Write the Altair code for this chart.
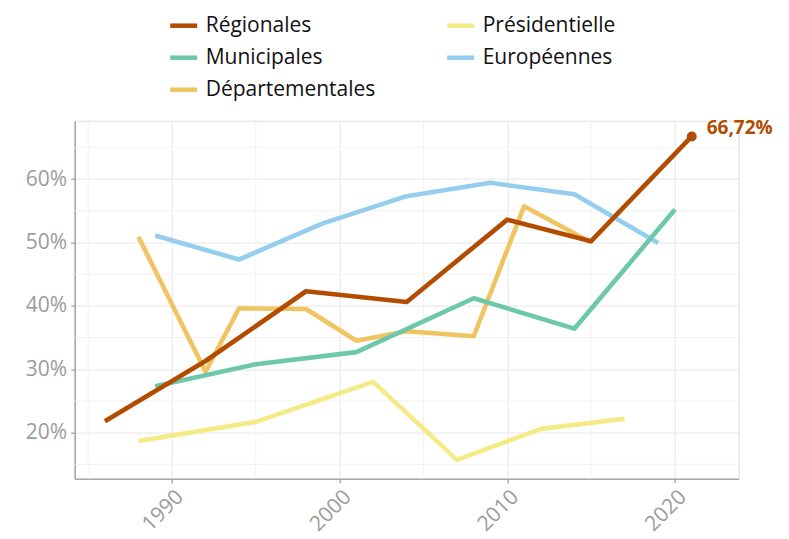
import altair as alt
import pandas as pd

# ---- data (abstention rate, %) ----
reg_years = [1986, 1992, 1998, 2004, 2010, 2015, 2021]
reg_vals = [21.8, 31.3, 42.3, 40.6, 53.6, 50.2, 66.72]

mun_years = [1989, 1995, 2001, 2008, 2014, 2020]
mun_vals = [27.3, 30.8, 32.7, 41.2, 36.4, 55.2]

dep_years = [1988, 1992, 1994, 1998, 2001, 2004, 2008, 2011, 2015]
dep_vals = [50.9, 29.6, 39.6, 39.5, 34.5, 36.0, 35.2, 55.7, 50.0]

pres_years = [1988, 1995, 2002, 2007, 2012, 2017]
pres_vals = [18.7, 21.7, 28.0, 15.7, 20.6, 22.2]

eur_years = [1989, 1994, 1999, 2004, 2009, 2014, 2019]
eur_vals = [51.1, 47.3, 53.0, 57.3, 59.4, 57.6, 49.9]

series_names = ["Régionales", "Municipales", "Départementales", "Présidentielle", "Européennes"]
series_colors = ["#b24c00", "#6cc8a9", "#f1c462", "#f5eb86", "#95cdef"]

x_major = [1990, 2000, 2010, 2020]
x_minor = [1985, 1995, 2005, 2015]
y_major = [20, 30, 40, 50, 60]
y_minor = [15, 25, 35, 45, 55, 65]

label_year = [2021]
label_value = [66.72]

# draw order: bottom first, Régionales on top
parts = [
    ("Départementales", dep_years, dep_vals),
    ("Présidentielle", pres_years, pres_vals),
    ("Européennes", eur_years, eur_vals),
    ("Municipales", mun_years, mun_vals),
    ("Régionales", reg_years, reg_vals),
]
rows = []
for i, (name, ys, vs) in enumerate(parts):
    for y, v in zip(ys, vs):
        rows.append({"serie": name, "annee": y, "taux": v, "ordre": i})
df = pd.DataFrame(rows)

lab_df = pd.DataFrame({
    "annee": label_year,
    "taux": label_value,
    "texte": [f"{v:.2f}".replace(".", ",") + "%" for v in label_value],
})

FONT = "Open Sans"
GREY = "#9b9b9b"

x_scale = alt.Scale(domain=[1984.2, 2023.8], nice=False, zero=False)
y_scale = alt.Scale(domain=[12.74, 69.2], nice=False, zero=False)

minor_x = alt.Chart(pd.DataFrame({"v": x_minor})).mark_rule(
    color="#f2f2f2", strokeWidth=1
).encode(x=alt.X("v:Q", scale=x_scale))

minor_y = alt.Chart(pd.DataFrame({"v": y_minor})).mark_rule(
    color="#f2f2f2", strokeWidth=1
).encode(y=alt.Y("v:Q", scale=y_scale))

lines = alt.Chart(df).mark_line(strokeWidth=4.6, strokeCap="butt", strokeJoin="round").encode(
    x=alt.X(
        "annee:Q",
        scale=x_scale,
        title=None,
        axis=alt.Axis(
            values=x_major, format="d", labelAngle=-45, labelAlign="right", labelBaseline="top",
            labelFontSize=21, labelColor=GREY, labelFont=FONT, labelPadding=3,
            grid=True, gridColor="#ebebeb", gridWidth=1.2,
            domainColor="#a8a8a8", domainWidth=1.6,
            tickColor="#a8a8a8", tickSize=4, tickWidth=1.4,
        ),
    ),
    y=alt.Y(
        "taux:Q",
        scale=y_scale,
        title=None,
        axis=alt.Axis(
            values=y_major, labelExpr="datum.value + '%'",
            labelFontSize=21, labelColor=GREY, labelFont=FONT, labelPadding=4,
            grid=True, gridColor="#ebebeb", gridWidth=1.2,
            domainColor="#a8a8a8", domainWidth=1.6,
            tickColor="#a8a8a8", tickSize=4, tickWidth=1.4,
        ),
    ),
    color=alt.Color(
        "serie:N",
        scale=alt.Scale(domain=series_names, range=series_colors),
        legend=alt.Legend(
            title=None, orient="none", legendX=93, legendY=-111,
            columns=2, columnPadding=62, rowPadding=6,
            symbolType="stroke", symbolSize=729, symbolStrokeWidth=4.5,
            labelFontSize=21, labelFont=FONT, labelColor="#111111", labelOffset=6,
            labelLimit=400,
        ),
    ),
    order=alt.Order("ordre:Q"),
    detail="ordre:Q",
)

point = alt.Chart(lab_df).mark_circle(size=100, color="#b24c00", opacity=1).encode(
    x=alt.X("annee:Q", scale=x_scale),
    y=alt.Y("taux:Q", scale=y_scale),
)

text = alt.Chart(lab_df).mark_text(
    align="left", baseline="middle", dx=15, dy=-8, fontSize=19, fontWeight="bold",
    font=FONT, color="#b24c00",
).encode(
    x=alt.X("annee:Q", scale=x_scale),
    y=alt.Y("taux:Q", scale=y_scale),
    text="texte:N",
)

chart = alt.layer(minor_x, minor_y, lines, point, text).properties(
    width=664,
    height=358,
    autosize=alt.AutoSizeParams(type="none"),
    padding={"left": 66.7, "top": 112.7, "right": 42, "bottom": 58},
).configure_view(stroke=None).configure(font=FONT)

chart.save("out.html", embed_options={"renderer": "svg", "actions": False})
